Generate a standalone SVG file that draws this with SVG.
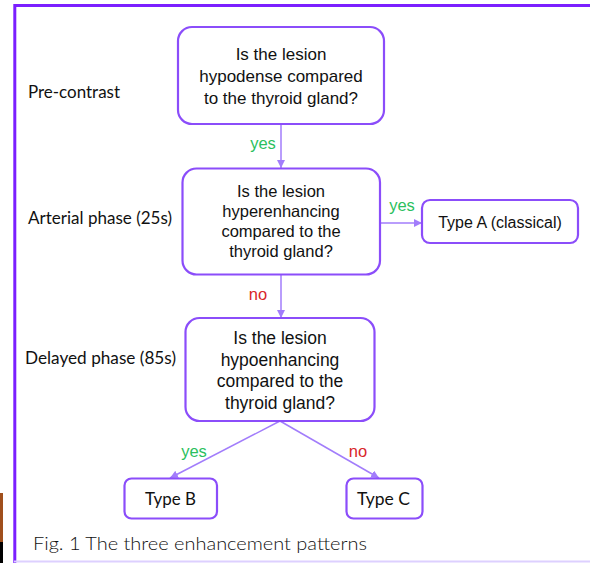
<svg xmlns="http://www.w3.org/2000/svg" width="590" height="563" viewBox="0 0 590 563">
<defs>
<style>
.box{fill:#fff;stroke:#8b4dfa;stroke-width:2.2}
.q{font-family:"Liberation Sans",Arial,sans-serif;fill:#111;text-anchor:middle}
.side{font-family:Lato,"Open Sans",sans-serif;fill:#111;font-size:17px}
.conn{stroke:#a27dfb;stroke-width:1.5;fill:none}
.yes{font-family:"Liberation Sans",Arial,sans-serif;fill:#2bbf5e;font-size:16.5px;text-anchor:middle}
.no{font-family:"Liberation Sans",Arial,sans-serif;fill:#d9262a;font-size:16.5px;text-anchor:middle}
</style>
<marker id="ah" viewBox="0 0 10 10" refX="10" refY="5" markerWidth="8" markerHeight="8" markerUnits="userSpaceOnUse" orient="auto">
<path d="M0,0 L10,5 L0,10 z" fill="#a27dfb"/>
</marker>
</defs>
<rect x="0" y="0" width="590" height="563" fill="#fff"/>
<!-- frame -->
<line x1="14.5" y1="5.5" x2="590" y2="5.5" stroke="#7b1fff" stroke-width="3"/>
<line x1="14.8" y1="4" x2="14.8" y2="563" stroke="#7b1fff" stroke-width="3"/>
<line x1="14" y1="561.5" x2="590" y2="561.5" stroke="#ddd0ff" stroke-width="2"/>
<rect x="0" y="493" width="3" height="49" fill="#a04f1c"/>
<rect x="0" y="542" width="3" height="21" fill="#000"/>

<g id="connectors">
<line class="conn" x1="281" y1="124" x2="281" y2="168" marker-end="url(#ah)"/>
<line class="conn" x1="380" y1="223" x2="422" y2="223" marker-end="url(#ah)"/>
<line class="conn" x1="281" y1="275" x2="281" y2="318" marker-end="url(#ah)"/>
<line class="conn" x1="280" y1="421" x2="170" y2="478" marker-end="url(#ah)"/>
<line class="conn" x1="280" y1="421" x2="379" y2="478" marker-end="url(#ah)"/>
<text class="yes" x="263" y="149">yes</text>
<text class="yes" x="402" y="211">yes</text>
<text class="no" x="258" y="300">no</text>
<text class="yes" x="194" y="457">yes</text>
<text class="no" x="358" y="457">no</text>
</g>

<g id="label-pre"><text class="side" x="28" y="98" textLength="92" lengthAdjust="spacingAndGlyphs">Pre-contrast</text></g>
<g id="label-arterial"><text class="side" x="28" y="224" textLength="144" lengthAdjust="spacingAndGlyphs">Arterial phase (25s)</text></g>
<g id="label-delayed"><text class="side" x="25" y="364" textLength="151" lengthAdjust="spacingAndGlyphs">Delayed phase (85s)</text></g>

<g id="q1">
<rect class="box" x="178" y="27" width="206" height="97" rx="14"/>
<text class="q" font-size="17" x="281" y="60">Is the lesion</text>
<text class="q" font-size="17" x="281" y="82">hypodense compared</text>
<text class="q" font-size="17" x="281" y="104">to the thyroid gland?</text>
</g>

<g id="q2">
<rect class="box" x="182.5" y="168.5" width="197.5" height="106" rx="14"/>
<text class="q" font-size="16.5" x="281" y="197">Is the lesion</text>
<text class="q" font-size="16.5" x="281" y="217">hyperenhancing</text>
<text class="q" font-size="16.5" x="281" y="237">compared to the</text>
<text class="q" font-size="16.5" x="281" y="257">thyroid gland?</text>
</g>

<g id="typeA">
<rect class="box" x="422" y="200" width="156" height="43" rx="8"/>
<text class="q" font-size="16" x="500" y="228">Type A (classical)</text>
</g>

<g id="q3">
<rect class="box" x="185.5" y="318" width="189" height="103" rx="14"/>
<text class="q" font-size="17.5" x="280" y="344">Is the lesion</text>
<text class="q" font-size="17.5" x="280" y="366">hypoenhancing</text>
<text class="q" font-size="17.5" x="280" y="387">compared to the</text>
<text class="q" font-size="17.5" x="280" y="409">thyroid gland?</text>
</g>

<g id="typeB">
<rect class="box" x="124.5" y="478.5" width="92.5" height="40" rx="7"/>
<text class="side" font-size="18.5" x="145" y="505" textLength="51" lengthAdjust="spacingAndGlyphs">Type B</text>
</g>

<g id="typeC">
<rect class="box" x="346.5" y="478.5" width="76" height="40" rx="7"/>
<text class="side" font-size="18.5" x="357" y="505" textLength="53" lengthAdjust="spacingAndGlyphs">Type C</text>
</g>

<g id="caption"><text class="side" font-size="21" font-weight="300" fill="#222" x="33" y="550" textLength="334" lengthAdjust="spacingAndGlyphs">Fig. 1 The three enhancement patterns</text></g>
</svg>
